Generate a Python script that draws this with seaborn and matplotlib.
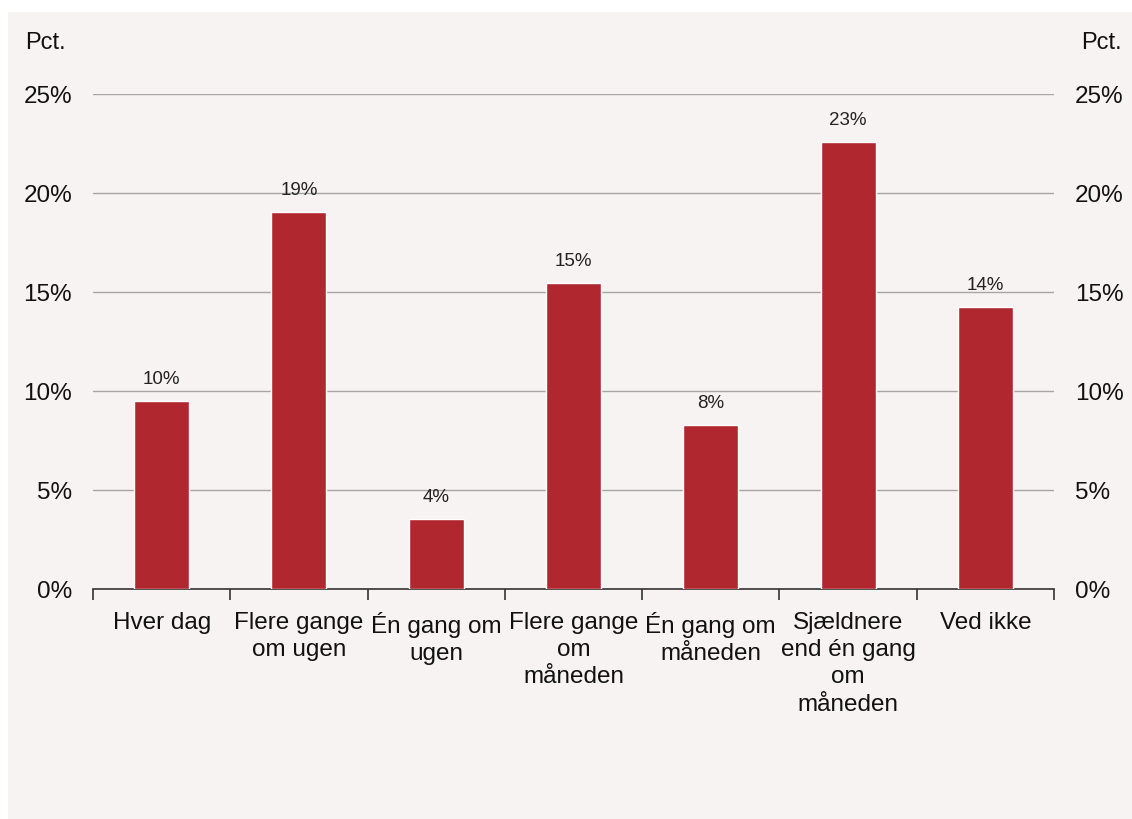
import matplotlib
matplotlib.use("Agg")
import matplotlib.pyplot as plt
import seaborn as sns
import pandas as pd
from matplotlib.patches import Rectangle
from matplotlib.ticker import FuncFormatter

# data
categories = ["Hver dag", "Flere gange\nom ugen", "Én gang om\nugen", "Flere gange\nom\nmåneden",
              "Én gang om\nmåneden", "Sjældnere\nend én gang\nom\nmåneden", "Ved ikke"]
values = [9.5, 19.05, 3.55, 15.45, 8.3, 22.6, 14.25]
value_labels = ["10%", "19%", "4%", "15%", "8%", "23%", "14%"]
y_ticks = [0, 5, 10, 15, 20, 25]

bg = "#F7F3F2"
bar_color = "#B0272F"

sns.set_style("white")
plt.rcParams['font.family'] = ['Liberation Sans', 'DejaVu Sans']

df = pd.DataFrame({'cat': categories, 'val': values})

fig = plt.figure(figsize=(11.32, 8.2), dpi=100)
fig.patch.set_facecolor("white")
# light panel behind everything (white margin at top and left)
fig.add_artist(Rectangle((8 / 1132, 0), 1 - 8 / 1132, 1 - 13 / 820, transform=fig.transFigure,
                         facecolor=bg, edgecolor="none", zorder=-10))

ax = fig.add_axes([93 / 1132, 1 - 590 / 820, (1054 - 93) / 1132, (590 - 95) / 820])
ax.patch.set_alpha(0)

sns.barplot(data=df, x='cat', y='val', color=bar_color, width=0.4, saturation=1, ax=ax, zorder=3)

ax.set_ylim(0, 25)
ax.set_xlim(-0.5, len(categories) - 0.5)
ax.set_yticks(y_ticks)
ax.yaxis.set_major_formatter(FuncFormatter(lambda v, p: f"{v:.0f}%"))
ax.grid(axis='y', color="#A6A6A6", linewidth=1, zorder=0)
ax.set_axisbelow(True)
ax.set_xlabel("")
ax.set_ylabel("")
for s in ['top', 'left', 'right']:
    ax.spines[s].set_visible(False)
ax.spines['bottom'].set_color("#333333")
ax.spines['bottom'].set_linewidth(1.2)

ax.tick_params(axis='y', length=0, pad=15, labelsize=17.5, labelcolor="#111111")
ax.tick_params(axis='x', which='major', length=0, pad=16, labelsize=17.5, labelcolor="#111111")
ax.set_xticks([i - 0.5 for i in range(len(categories) + 1)], minor=True)
ax.tick_params(axis='x', which='minor', length=8, width=1.2, color="#333333", bottom=True)
ax.set_xticklabels(categories, linespacing=1.3)

for i, (v, lab) in enumerate(zip(values, value_labels)):
    ax.annotate(lab, (i, v), xytext=(0, 10), textcoords='offset points', ha='center', va='bottom',
                fontsize=13.5, color="#222222")

ax2 = ax.twinx()
ax2.set_ylim(0, 25)
ax2.set_yticks(y_ticks)
ax2.yaxis.set_major_formatter(FuncFormatter(lambda v, p: f"{v:.0f}%"))
ax2.tick_params(axis='y', length=0, pad=15, labelsize=17.5, labelcolor="#111111")
for s in ax2.spines.values():
    s.set_visible(False)

fig.text(25 / 1132, 1 - 43 / 820, "Pct.", fontsize=17, ha='left', va='center', color="#111111")
fig.text(1122 / 1132, 1 - 43 / 820, "Pct.", fontsize=17, ha='right', va='center', color="#111111")

fig.savefig("out.png", dpi=100, facecolor=fig.get_facecolor())
